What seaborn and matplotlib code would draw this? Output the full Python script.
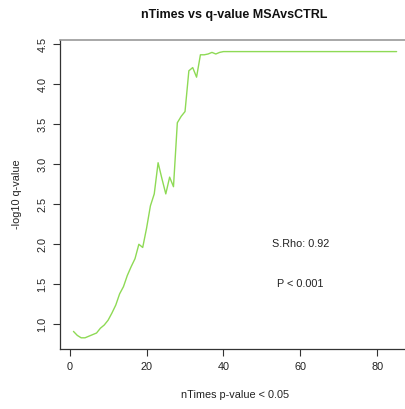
import matplotlib
matplotlib.use("Agg")
import matplotlib.pyplot as plt
import seaborn as sns
import pandas as pd
import numpy as np

n_times = list(range(1, 86))
q_early = [0.91, 0.86, 0.83, 0.83, 0.85, 0.87, 0.89, 0.95, 0.99, 1.05,
           1.14, 1.24, 1.38, 1.47, 1.61, 1.72, 1.82, 2.00, 1.96, 2.20,
           2.48, 2.63, 3.02, 2.82, 2.63, 2.84, 2.72, 3.52, 3.60, 3.66,
           4.17, 4.21, 4.09, 4.37, 4.37, 4.38, 4.40, 4.38, 4.40]
q_plateau = [4.41] * (85 - len(q_early))
neg_log_q = q_early + q_plateau

title = "nTimes vs q-value MSAvsCTRL"
xlabel = "nTimes p-value < 0.05"
ylabel = "-log10 q-value"
rho_text = "S.Rho: 0.92"
p_text = "P < 0.001"
x_ticks = [0, 20, 40, 60, 80]
y_ticks = [1.0, 1.5, 2.0, 2.5, 3.0, 3.5, 4.0, 4.5]

df = pd.DataFrame({"n": n_times, "q": neg_log_q})

sns.set_style("white")
plt.rcParams['font.family'] = ['Liberation Sans', 'DejaVu Sans']

W, H = 406, 409
fig = plt.figure(figsize=(W / 100, H / 100), dpi=100)
ax = fig.add_axes([60 / W, (H - 349) / H, (W - 60) / W + 0.01, (349 - 40) / H])

sns.lineplot(data=df, x="n", y="q", ax=ax, color="#8EDA55", linewidth=1.0)

ax.set_xlim(-2.5, 88.5)
ax.set_ylim(0.69, 4.555)
ax.set_xticks(x_ticks)
ax.set_xticklabels([str(t) for t in x_ticks])
ax.set_yticks(y_ticks)
ax.set_yticklabels([f"{t:.1f}" for t in y_ticks], rotation=90, va="center")
ax.tick_params(axis="both", which="both", direction="out", length=5, width=0.8,
               color="#333333", labelsize=7.8, labelcolor="#222222", pad=4,
               left=True, bottom=True)

for s in ["left", "bottom"]:
    ax.spines[s].set_color("#333333")
    ax.spines[s].set_linewidth(0.9)
ax.spines["top"].set_color("#999999")
ax.spines["top"].set_linewidth(1.2)
ax.spines["right"].set_visible(False)

ax.set_xlabel(xlabel, fontsize=7.8, color="#222222", labelpad=13)
ax.set_ylabel(ylabel, fontsize=7.8, color="#222222", labelpad=11)
fig.text(234 / W, 1 - 15 / H, title, ha="center", va="center",
         fontsize=9.0, fontweight="bold", color="#111111")

ax.text(60, 2.0, rho_text, ha="center", va="center", fontsize=7.8, color="#222222")
ax.text(60, 1.5, p_text, ha="center", va="center", fontsize=7.8, color="#222222")

fig.savefig("out.png", dpi=100)
